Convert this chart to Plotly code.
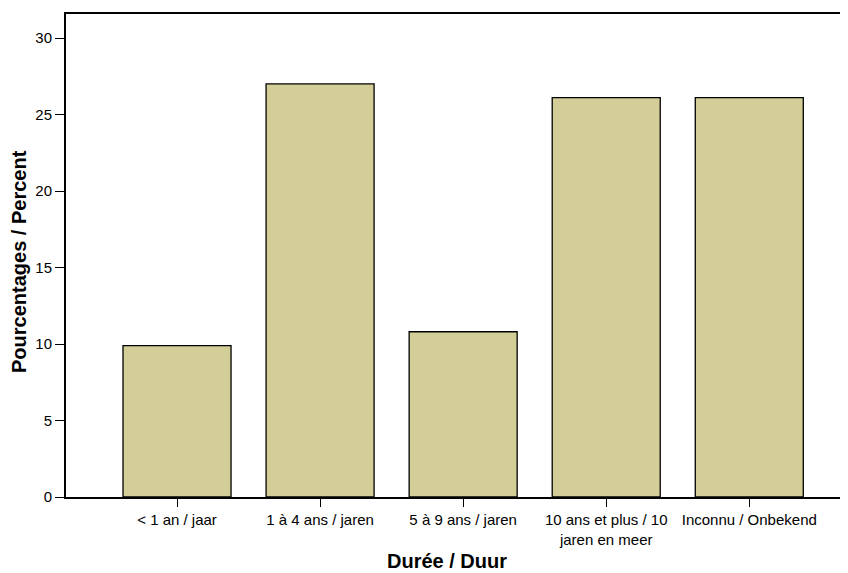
import plotly.graph_objects as go

categories = ["< 1 an / jaar", "1 à 4 ans / jaren", "5 à 9 ans / jaren",
              "10 ans et plus / 10<br>jaren en meer", "Inconnu / Onbekend"]
values = [9.9, 27.0, 10.8, 26.1, 26.1]
y_ticks = [0, 5, 10, 15, 20, 25, 30]

# page body has an 8px margin, so the figure is offset by 8px
W, H = 840, 565
L, R, T, B = 58, 0, 6, 76
PW, PH = W - L - R, H - T - B

fig = go.Figure(go.Bar(
    x=list(range(len(categories))), y=values,
    width=0.755,
    marker=dict(color="#d3ce98", line=dict(color="#000000", width=1.3)),
))

fig.update_layout(
    width=W, height=H,
    margin=dict(l=L, r=R, t=T, b=B, pad=0),
    paper_bgcolor="white", plot_bgcolor="white",
    showlegend=False,
    font=dict(family="Liberation Sans, Arial, sans-serif", color="#000000", size=15),
    xaxis=dict(
        range=[-0.776, 4.69],
        tickmode="array", tickvals=list(range(len(categories))), ticktext=categories,
        ticks="outside", ticklen=8, tickwidth=1.3, tickcolor="#000",
        showline=True, linecolor="#000", linewidth=2, mirror=True,
        showgrid=False, zeroline=False,
        tickfont=dict(size=15),
    ),
    yaxis=dict(
        range=[0, 31.57],
        tickmode="array", tickvals=y_ticks,
        ticks="outside", ticklen=9, tickwidth=1.3, tickcolor="#000",
        showline=True, linecolor="#000", linewidth=2,
        showgrid=False, zeroline=False,
        tickfont=dict(size=15),
    ),
    annotations=[
        dict(
            text="<b>Durée / Duur</b>", xref="paper", yref="paper",
            x=(439 - L) / PW, y=-(553 - (H - B)) / PH,
            xanchor="center", yanchor="middle", showarrow=False,
            font=dict(size=20), borderpad=0,
        ),
        dict(
            text="<b>Pourcentages / Percent</b>", xref="paper", yref="paper",
            x=(11 - L) / PW, y=(H - B - (262 - 8)) / PH,
            xanchor="center", yanchor="middle", showarrow=False,
            textangle=-90, font=dict(size=20), borderpad=0,
        ),
    ],
)

fig.write_html("out.html")
